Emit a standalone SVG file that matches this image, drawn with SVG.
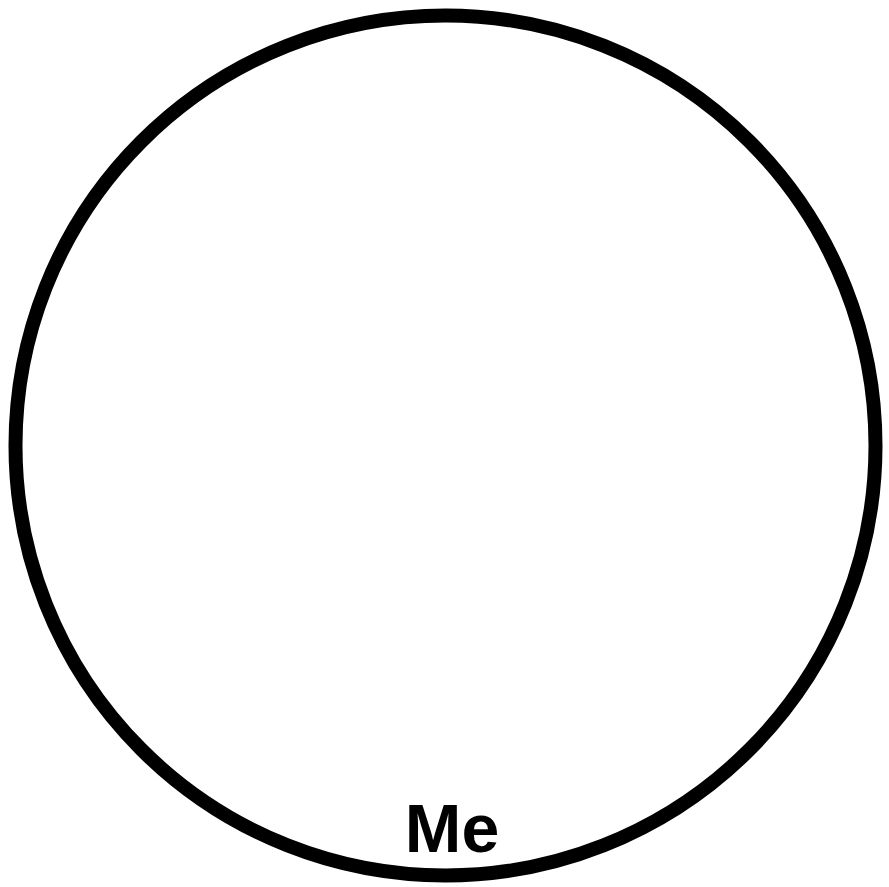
<svg xmlns="http://www.w3.org/2000/svg" width="889" height="887" viewBox="0 0 889 887">
<style>
.ring{fill:#fff;stroke:#000;stroke-width:14}
.lbl{font-family:"Liberation Sans",Arial,sans-serif;font-weight:bold;font-size:68px;fill:#000;text-anchor:middle}
</style>
<rect width="889" height="887" fill="#fff"/>
<g id="connectors"></g>
<g id="me">
<circle class="ring" cx="445.5" cy="445.5" r="430"/>
<text class="lbl" x="452" y="852">Me</text>
</g>
</svg>
